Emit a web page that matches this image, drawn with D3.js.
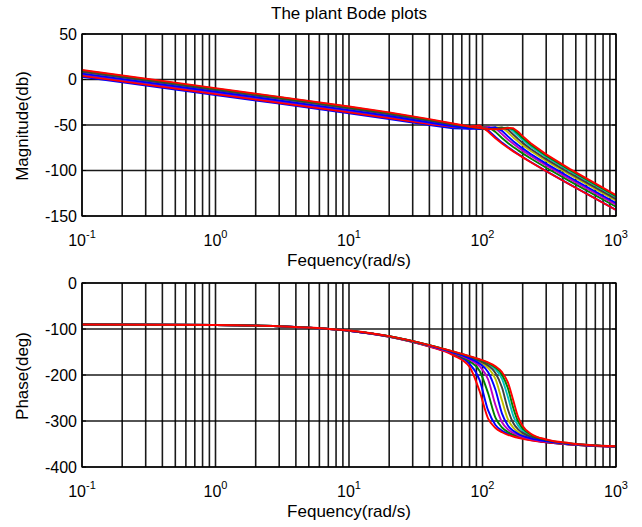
<!DOCTYPE html>
<html><head><meta charset="utf-8">
<script src="https://cdn.jsdelivr.net/npm/d3@7"></script>
<style>
body{margin:0;background:#fff}
svg{display:block}
text{font-family:"Liberation Sans",Arial,Helvetica,sans-serif;fill:#000}
</style>
</head><body>
<svg id="chart" width="642" height="527"></svg>
<script>
// ---------- data ----------
const freq = [0.1, 1, 3, 10, 20, 40, 60, 80, 95, 110, 125, 140, 155, 170, 185, 200, 230, 300, 450, 1000];

const magA = [4.0, -16.0, -25.56, -36.12, -42.43, -49.01, -52.06, -51.76, -50.47, -57.20, -64.60, -70.33, -74.98, -78.95, -82.42, -85.53, -90.92, -100.80, -115.36, -143.39];
const phA  = [-90.13, -91.41, -94.24, -103.93, -116.92, -138.43, -156.65, -182.39, -234.80, -294.17, -315.12, -324.45, -329.94, -333.69, -336.48, -338.66, -341.91, -346.52, -351.18, -356.07];

const magB = [3.0, -17.0, -26.56, -37.13, -43.48, -50.20, -53.59, -54.09, -52.45, -55.59, -63.23, -69.37, -74.28, -78.40, -81.98, -85.16, -90.65, -100.63, -115.26, -143.34];
const phB  = [-90.13, -91.40, -94.21, -103.86, -116.73, -137.89, -155.08, -175.81, -210.64, -276.49, -308.57, -321.13, -327.87, -332.23, -335.37, -337.77, -341.27, -346.13, -350.97, -355.99];

const magC = [5.0, -15.0, -24.56, -35.14, -41.53, -48.43, -52.20, -53.55, -52.72, -51.81, -57.55, -64.30, -69.67, -74.08, -77.85, -81.16, -86.81, -96.97, -111.72, -139.87];
const phC  = [-90.13, -91.39, -94.18, -103.76, -116.49, -137.24, -153.35, -169.93, -190.62, -239.21, -292.72, -314.11, -323.87, -329.56, -333.41, -336.24, -340.22, -345.53, -350.65, -355.86];

const magD = [6.0, -14.0, -23.56, -34.15, -40.57, -47.60, -51.66, -53.59, -53.54, -52.18, -53.53, -60.04, -65.94, -70.71, -74.71, -78.18, -84.03, -94.40, -109.29, -137.50];
const phD  = [-90.13, -91.38, -94.16, -103.71, -116.30, -136.72, -152.10, -166.38, -180.81, -209.25, -265.37, -302.83, -318.18, -326.07, -330.99, -334.42, -339.03, -344.88, -350.31, -355.73];

const magE = [6.5, -13.5, -23.06, -33.66, -40.10, -47.23, -51.50, -53.85, -54.36, -53.63, -52.54, -56.36, -62.54, -67.75, -72.04, -75.71, -81.80, -92.40, -107.44, -135.74];
const phE  = [-90.13, -91.37, -94.14, -103.66, -116.13, -136.29, -151.14, -164.01, -175.28, -193.31, -232.10, -283.90, -309.64, -321.32, -327.90, -332.20, -337.66, -344.17, -349.96, -355.60];

const magF = [8.0, -12.0, -21.56, -32.16, -38.62, -45.84, -50.28, -52.94, -53.85, -53.72, -52.54, -52.89, -58.07, -63.66, -68.30, -72.21, -78.58, -89.46, -104.67, -133.06];
const phF  = [-90.13, -91.36, -94.12, -103.62, -115.98, -135.94, -150.39, -162.31, -171.76, -184.69, -208.65, -255.60, -296.10, -314.54, -323.84, -329.44, -336.06, -343.41, -349.61, -355.47];

const magG = [8.5, -11.5, -21.06, -31.67, -38.14, -45.43, -50.00, -52.89, -54.10, -54.43, -53.75, -52.68, -55.01, -60.45, -65.46, -69.65, -76.37, -87.57, -102.96, -131.44];
const phG  = [-90.13, -91.36, -94.11, -103.58, -115.85, -135.63, -149.77, -161.03, -169.33, -179.48, -195.47, -227.32, -274.88, -304.37, -318.26, -325.89, -334.16, -342.58, -349.23, -355.34];

const magH = [9.5, -10.5, -20.06, -30.67, -37.16, -44.51, -49.18, -52.26, -53.68, -54.36, -54.16, -53.14, -52.94, -56.83, -62.00, -66.51, -73.64, -85.21, -100.80, -129.39];
const phH  = [-90.13, -91.35, -94.09, -103.53, -115.74, -135.37, -149.26, -160.02, -167.55, -176.02, -187.76, -208.44, -247.71, -288.74, -310.27, -321.18, -331.88, -341.66, -348.84, -355.21];

const magI = [10.0, -10.0, -19.56, -30.18, -36.67, -44.05, -48.80, -51.99, -53.56, -54.44, -54.54, -53.84, -52.88, -54.74, -59.56, -64.28, -71.76, -83.67, -99.44, -128.12];
const phI  = [-90.13, -91.35, -94.07, -103.50, -115.66, -135.19, -148.92, -159.37, -166.47, -174.06, -183.78, -199.24, -228.61, -271.84, -301.52, -316.32, -329.73, -340.87, -348.53, -355.10];

const magJ = [10.5, -9.5, -19.06, -29.68, -36.18, -43.59, -48.38, -51.67, -53.33, -54.36, -54.68, -54.25, -53.23, -53.55, -57.46, -62.25, -70.06, -82.28, -98.22, -126.98];
const phJ  = [-90.13, -91.35, -94.05, -103.35, -115.60, -135.05, -148.66, -158.89, -165.69, -172.71, -181.22, -193.74, -216.18, -255.17, -291.53, -311.00, -327.57, -340.14, -348.25, -355.01];

// plotting order and MATLAB colour letters
const seriesColor = ["b", "g", "r", "c", "m", "y", "k", "b", "g", "r"];
const seriesMag   = [magB, magC, magA, magH, magD, magF, magG, magE, magI, magJ];
const seriesPhase = [phB, phC, phA, phH, phD, phF, phG, phE, phI, phJ];

const xTickValues = [0.1, 1, 10, 100, 1000];
const xTickExp = ["-1", "0", "1", "2", "3"];
const magTicks = [-150, -100, -50, 0, 50];
const phaseTicks = [-400, -300, -200, -100, 0];

const titleText = "The plant Bode plots";
const magLabel = "Magnitude(db)";
const phaseLabel = "Phase(deg)";
const freqLabel = "Fequency(rad/s)";

// ---------- drawing ----------
const colorMap = {b:"#0000ff", g:"#008000", r:"#ff0000", c:"#00bfbf", m:"#bf00bf", y:"#bfbf00", k:"#404040"};
const svg = d3.select("#chart");
const L = 82, R = 616;
const x = d3.scaleLog().domain([0.1, 1000]).range([L, R]);

const minorX = [];
for (let e = -1; e <= 2; e++) for (let k = 1; k <= 9; k++) minorX.push(k * Math.pow(10, e));
minorX.push(1000);

function panel(id, top, bottom, domain, ticks, dataArr, curve, ylabel, ylabelY) {
  const y = d3.scaleLinear().domain(domain).range([bottom, top]);
  const g = svg.append("g");
  g.append("defs").append("clipPath").attr("id", id)
    .append("rect").attr("x", L).attr("y", top).attr("width", R - L).attr("height", bottom - top);
  g.append("rect").attr("x", L).attr("y", top).attr("width", R - L).attr("height", bottom - top).attr("fill", "#fff");
  // grid
  g.selectAll(".vg").data(minorX).join("line")
    .attr("x1", d => x(d)).attr("x2", d => x(d)).attr("y1", top).attr("y2", bottom)
    .attr("stroke", "#000").attr("stroke-width", 1.6).attr("stroke-opacity", 0.9);
  g.selectAll(".hg").data(ticks).join("line")
    .attr("x1", L).attr("x2", R).attr("y1", d => y(d)).attr("y2", d => y(d))
    .attr("stroke", "#000").attr("stroke-width", 1.6).attr("stroke-opacity", 0.9);
  // curves
  const line = d3.line().x((d, i) => x(freq[i])).y(d => y(d)).curve(curve);
  const cg = g.append("g").attr("clip-path", `url(#${id})`);
  dataArr.forEach((arr, i) => {
    cg.append("path").attr("d", line(arr)).attr("fill", "none")
      .attr("stroke", colorMap[seriesColor[i]]).attr("stroke-width", 1.9)
      .attr("stroke-linejoin", "round");
  });
  // box
  g.append("rect").attr("x", L).attr("y", top).attr("width", R - L).attr("height", bottom - top)
    .attr("fill", "none").attr("stroke", "#000").attr("stroke-width", 1.3);
  // small inner ticks
  g.selectAll(".yt").data(ticks).join("line")
    .attr("x1", L).attr("x2", L + 4).attr("y1", d => y(d)).attr("y2", d => y(d)).attr("stroke", "#000");
  g.selectAll(".yt2").data(ticks).join("line")
    .attr("x1", R - 4).attr("x2", R).attr("y1", d => y(d)).attr("y2", d => y(d)).attr("stroke", "#000");
  // y tick labels
  g.selectAll(".yl").data(ticks).join("text")
    .attr("x", L - 5).attr("y", d => y(d)).attr("dy", "0.36em")
    .attr("text-anchor", "end").attr("font-size", 16).text(d => d);
  // x tick labels
  const xl = g.selectAll(".xl").data(xTickValues).join("text")
    .attr("x", d => x(d)).attr("y", bottom + 30)
    .attr("text-anchor", "middle").attr("font-size", 16);
  xl.append("tspan").text("10");
  xl.append("tspan").attr("font-size", 11).attr("dy", -8).text((d, i) => xTickExp[i]);
  // x label
  g.append("text").attr("x", (L + R) / 2).attr("y", bottom + 50)
    .attr("text-anchor", "middle").attr("font-size", 17).text(freqLabel);
  // y label
  g.append("text").attr("transform", `translate(28,${ylabelY}) rotate(-90)`)
    .attr("text-anchor", "middle").attr("font-size", 17).text(ylabel);
}

panel("clipMag", 34, 216, [-150, 50], magTicks, seriesMag, d3.curveLinear, magLabel, 126);
panel("clipPh", 283, 467, [-400, 0], phaseTicks, seriesPhase, d3.curveMonotoneX, phaseLabel, 376);

svg.append("text").attr("x", (L + R) / 2).attr("y", 19)
  .attr("text-anchor", "middle").attr("font-size", 17).text(titleText);
</script>
</body></html>
